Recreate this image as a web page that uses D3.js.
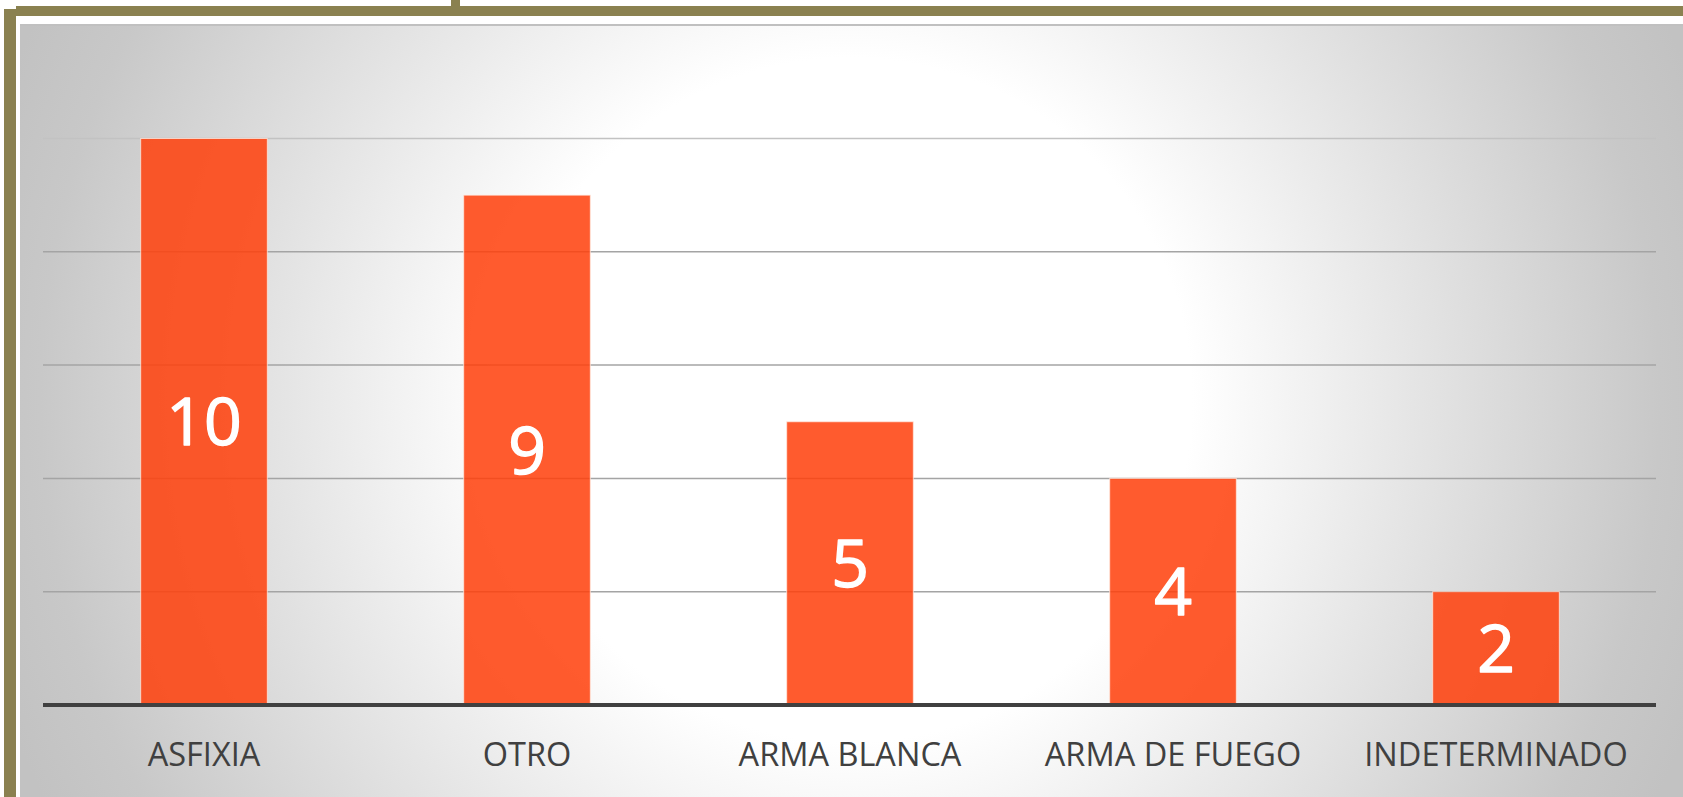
<!DOCTYPE html>
<html>
<head>
<meta charset="utf-8">
<script src="https://cdn.jsdelivr.net/npm/d3@7"></script>
<style>
  html, body { margin: 0; padding: 0; background: #ffffff; overflow: hidden; }
  svg { display: block; }
</style>
</head>
<body>
<svg id="chart" width="1683" height="797"></svg>
<script>
const categories = ["ASFIXIA", "OTRO", "ARMA BLANCA", "ARMA DE FUEGO", "INDETERMINADO"];
const values = [10, 9, 5, 4, 2];
const yTicks = [0, 2, 4, 6, 8, 10];

const W = 1683, H = 797;
const svg = d3.select("#chart");
const defs = svg.append("defs");

const grad = defs.append("radialGradient")
  .attr("id", "bg")
  .attr("gradientUnits", "userSpaceOnUse")
  .attr("cx", 850).attr("cy", 400).attr("r", 900);
grad.append("stop").attr("offset", 0).attr("stop-color", "#ffffff");
grad.append("stop").attr("offset", 0.38).attr("stop-color", "#ffffff");
grad.append("stop").attr("offset", 0.9).attr("stop-color", "#c8c8c8");
grad.append("stop").attr("offset", 1).attr("stop-color", "#c2c2c2");

// frame
const olive = "#8a8150";
svg.append("rect").attr("x", 451).attr("y", 0).attr("width", 9).attr("height", 7).attr("fill", olive);
svg.append("rect").attr("x", 16).attr("y", 6).attr("width", W - 16).attr("height", 10).attr("fill", olive);
svg.append("rect").attr("x", 4).attr("y", 9).attr("width", 12).attr("height", H - 9).attr("fill", olive);

// chart area
svg.append("rect").attr("x", 20).attr("y", 24).attr("width", W - 20).attr("height", H - 24).attr("fill", "url(#bg)");
svg.append("line").attr("x1", 20).attr("x2", W).attr("y1", 25).attr("y2", 25)
  .attr("stroke", "#c0c0c0").attr("stroke-width", 2);

const x = d3.scaleBand().domain(categories).range([42.5, 1657.5])
  .paddingInner(0.608).paddingOuter(0.304);
const y = d3.scaleLinear().domain([0, 10]).range([705, 138.5]);

// gridlines
svg.append("g").selectAll("line").data(yTicks.filter(d => d > 0)).join("line")
  .attr("x1", 43).attr("x2", 1656)
  .attr("y1", d => y(d)).attr("y2", d => y(d))
  .attr("stroke", d => d === 10 ? "#c2c2c2" : "#a4a4a4").attr("stroke-width", 1.5);

// bars
svg.append("g").selectAll("rect").data(values).join("rect")
  .attr("x", (d, i) => x(categories[i]))
  .attr("y", d => y(d))
  .attr("width", x.bandwidth())
  .attr("height", d => y(0) - y(d))
  .attr("fill", "rgb(255,64,12)")
  .attr("fill-opacity", 0.86)
  .attr("stroke", "rgba(255,235,225,0.75)")
  .attr("stroke-width", 1);

// baseline
svg.append("line").attr("x1", 43).attr("x2", 1656).attr("y1", y(0)).attr("y2", y(0))
  .attr("stroke", "#404040").attr("stroke-width", 4);

// value labels
const vfs = 66;
svg.append("g").selectAll("text").data(values).join("text")
  .attr("x", (d, i) => x(categories[i]) + x.bandwidth() / 2)
  .attr("y", d => (y(d) + y(0)) / 2 + 0.357 * vfs)
  .attr("text-anchor", "middle")
  .attr("font-family", "'Open Sans', sans-serif")
  .attr("font-size", vfs)
  .attr("fill", "#ffffff")
  .attr("stroke", "#ffffff")
  .attr("stroke-width", 1.4)
  .attr("stroke-linejoin", "round")
  .text(d => d);

// category labels
svg.append("g").selectAll("text").data(categories).join("text")
  .attr("x", d => x(d) + x.bandwidth() / 2)
  .attr("y", 766)
  .attr("text-anchor", "middle")
  .attr("font-family", "'Open Sans', sans-serif")
  .attr("font-size", 32.5)
  .attr("fill", "#404040")
  .text(d => d);
</script>
</body>
</html>
